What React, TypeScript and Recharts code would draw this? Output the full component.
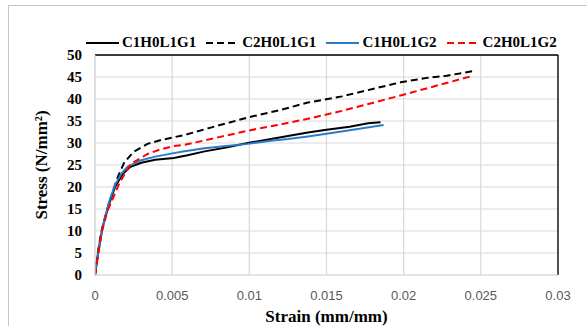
import React from 'react';
import { LineChart, Line, XAxis, YAxis, CartesianGrid, ReferenceLine, Label } from 'recharts';

// strain (mm/mm) / stress (N/mm2)
const c1h0l1g1 = [
  { x: 0, y: 0 }, { x: 0.0002, y: 5 }, { x: 0.0005, y: 11 }, { x: 0.0009, y: 16 },
  { x: 0.0013, y: 20 }, { x: 0.0018, y: 23 }, { x: 0.0023, y: 24.6 }, { x: 0.003, y: 25.5 },
  { x: 0.0039, y: 26.2 }, { x: 0.0051, y: 26.6 }, { x: 0.006, y: 27.2 }, { x: 0.0071, y: 28.1 },
  { x: 0.0085, y: 29 }, { x: 0.0099, y: 30 }, { x: 0.0114, y: 30.9 }, { x: 0.0125, y: 31.6 },
  { x: 0.0138, y: 32.4 }, { x: 0.015, y: 33 }, { x: 0.0165, y: 33.7 }, { x: 0.0177, y: 34.5 },
  { x: 0.0185, y: 34.7 },
];

const c2h0l1g1 = [
  { x: 0, y: 0 }, { x: 0.0002, y: 5.5 }, { x: 0.00043, y: 10.2 }, { x: 0.0008, y: 15 },
  { x: 0.00118, y: 19.3 }, { x: 0.0015, y: 22.5 }, { x: 0.0019, y: 25.6 }, { x: 0.0025, y: 28 },
  { x: 0.0034, y: 29.8 }, { x: 0.0043, y: 30.7 }, { x: 0.0051, y: 31.3 }, { x: 0.0059, y: 31.9 },
  { x: 0.0075, y: 33.5 }, { x: 0.0099, y: 35.8 }, { x: 0.012, y: 37.5 }, { x: 0.0138, y: 39.2 },
  { x: 0.016, y: 40.6 }, { x: 0.0198, y: 43.8 }, { x: 0.0215, y: 44.8 }, { x: 0.0228, y: 45.3 },
  { x: 0.0246, y: 46.4 },
];

const c1h0l1g2 = [
  { x: 0, y: 0 }, { x: 0.0002, y: 5 }, { x: 0.0005, y: 11 }, { x: 0.0009, y: 16.5 },
  { x: 0.0013, y: 20.5 }, { x: 0.0017, y: 23 }, { x: 0.0021, y: 24.6 }, { x: 0.003, y: 26.1 },
  { x: 0.0039, y: 26.9 }, { x: 0.0051, y: 27.7 }, { x: 0.0058, y: 28.1 }, { x: 0.0071, y: 28.8 },
  { x: 0.0085, y: 29.3 }, { x: 0.0099, y: 29.8 }, { x: 0.0114, y: 30.5 }, { x: 0.0125, y: 30.9 },
  { x: 0.0138, y: 31.5 }, { x: 0.015, y: 32.1 }, { x: 0.0165, y: 32.9 }, { x: 0.0187, y: 34.1 },
];

const c2h0l1g2 = [
  { x: 0, y: 0 }, { x: 0.0002, y: 4.5 }, { x: 0.00043, y: 9.7 }, { x: 0.0008, y: 14.5 },
  { x: 0.00123, y: 18 }, { x: 0.0016, y: 21 }, { x: 0.0023, y: 25.2 }, { x: 0.0034, y: 27.5 },
  { x: 0.0042, y: 28.5 }, { x: 0.0051, y: 29.3 }, { x: 0.0058, y: 29.6 }, { x: 0.0075, y: 30.9 },
  { x: 0.0099, y: 32.8 }, { x: 0.012, y: 34.2 }, { x: 0.0138, y: 35.5 }, { x: 0.016, y: 37.3 },
  { x: 0.0198, y: 40.8 }, { x: 0.022, y: 42.9 }, { x: 0.0243, y: 45.1 },
];

const xTicks = [0, 0.005, 0.01, 0.015, 0.02, 0.025, 0.03];
const yTicks = [0, 5, 10, 15, 20, 25, 30, 35, 40, 45, 50];

const series = [
  { name: 'C1H0L1G1', data: c1h0l1g1, color: '#000000', dash: undefined },
  { name: 'C2H0L1G1', data: c2h0l1g1, color: '#000000', dash: '7 4' },
  { name: 'C1H0L1G2', data: c1h0l1g2, color: '#2B7BCB', dash: undefined },
  { name: 'C2H0L1G2', data: c2h0l1g2, color: '#FF0000', dash: '7 4' },
];

const serif = "'Liberation Serif', 'DejaVu Serif', serif";
const grid = '#d9d9d9';

const ChartLegend = () => (
  <div
    style={{
      position: 'absolute', top: 34, left: 86, display: 'flex', alignItems: 'center',
      fontFamily: serif, fontWeight: 'bold', fontSize: 15, lineHeight: '17px', whiteSpace: 'nowrap',
    }}
  >
    {series.map((s) => (
      <div key={s.name} style={{ display: 'flex', alignItems: 'center', marginRight: 10 }}>
        <svg width={33} height={10} style={{ marginRight: 3 }}>
          <line x1={0} y1={5} x2={33} y2={5} stroke={s.color} strokeWidth={2} strokeDasharray={s.dash} />
        </svg>
        <span>{s.name}</span>
      </div>
    ))}
  </div>
);

export default function App() {
  return (
    <div style={{ position: 'absolute', top: 0, left: 0, width: 587, height: 326, overflow: 'hidden', background: '#fff' }}>
      <div style={{ position: 'absolute', left: 8, top: 5, width: 640, height: 380, border: '1px solid #c6c6c6' }} />
      <div style={{ position: 'absolute', left: 0, top: 0 }}>
        <LineChart width={587} height={326} margin={{ top: 55, right: 29, bottom: 0, left: 0 }}>
          <CartesianGrid stroke={grid} strokeWidth={1.2} />
          <XAxis
            type="number"
            dataKey="x"
            domain={[0, 0.03]}
            ticks={xTicks}
            interval={0}
            height={51}
            tickLine={false}
            tickSize={0}
            tickMargin={16}
            axisLine={{ stroke: grid, strokeWidth: 1.2 }}
            tick={{ fill: '#595959', fontSize: 13, fontFamily: "'Liberation Sans', Arial, sans-serif" }}
            allowDataOverflow
          >
            <Label
              value="Strain (mm/mm)"
              position="insideBottom"
              offset={4}
              style={{ fontFamily: serif, fontWeight: 'bold', fontSize: 17, fill: '#000' }}
            />
          </XAxis>
          <YAxis
            type="number"
            domain={[0, 50]}
            ticks={yTicks}
            interval={0}
            width={95}
            tickLine={false}
            tickSize={0}
            tickMargin={13}
            axisLine={{ stroke: grid, strokeWidth: 1.2 }}
            tick={{ fill: '#000', fontSize: 15, fontWeight: 'bold', fontFamily: serif }}
          >
            <Label
              value="Stress (N/mm²)"
              angle={-90}
              position="insideLeft"
              offset={41}
              style={{ fontFamily: serif, fontWeight: 'bold', fontSize: 17, fill: '#000', textAnchor: 'middle' }}
            />
          </YAxis>
          <ReferenceLine y={50} stroke="#000" strokeWidth={1.3} />
          <ReferenceLine x={0.03} stroke="#000" strokeWidth={1.3} />
          {series.map((s) => (
            <Line
              key={s.name}
              data={s.data}
              dataKey="y"
              name={s.name}
              type="linear"
              stroke={s.color}
              strokeWidth={2}
              strokeDasharray={s.dash}
              dot={false}
              isAnimationActive={false}
            />
          ))}
        </LineChart>
      </div>
      <ChartLegend />
    </div>
  );
}
